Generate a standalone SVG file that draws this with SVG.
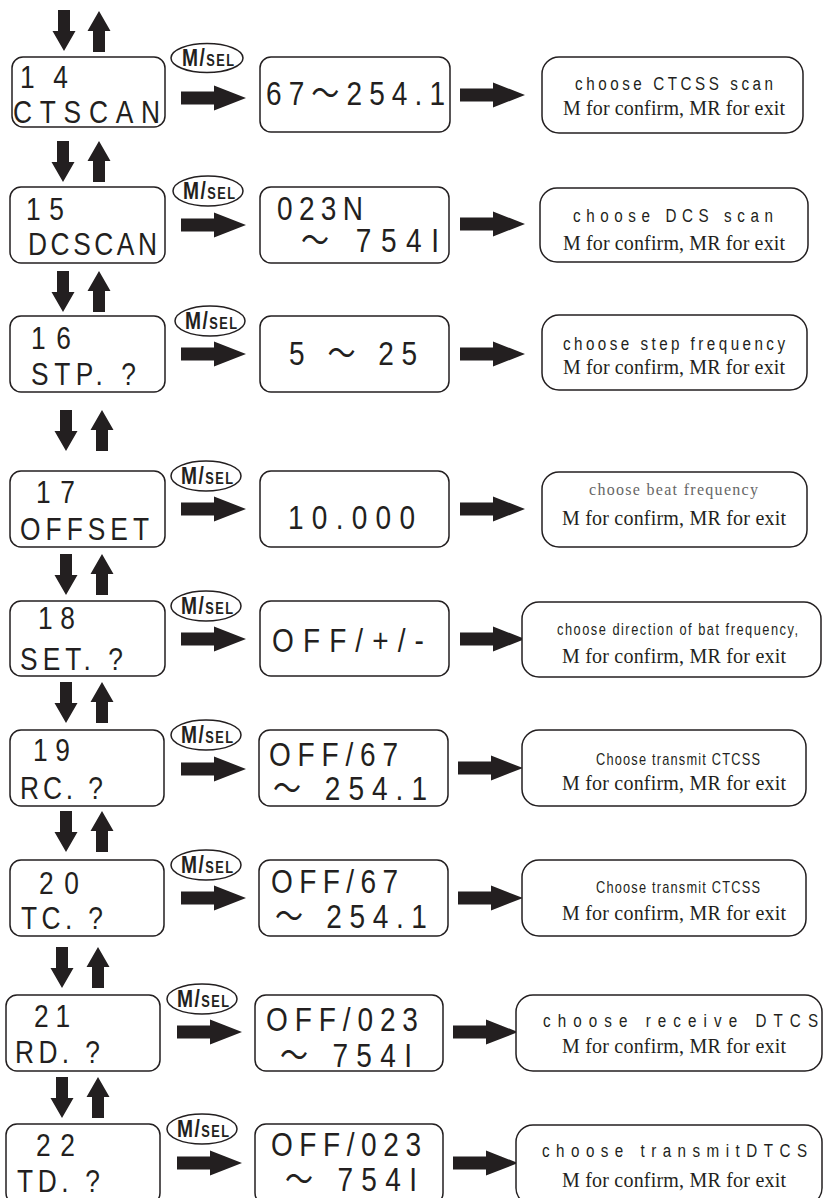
<svg xmlns="http://www.w3.org/2000/svg" xmlns:xlink="http://www.w3.org/1999/xlink" width="824" height="1198" viewBox="0 0 824 1198">
<style>
.box{fill:#fff;stroke:#231f20;stroke-width:1.5}
.lcd{font-family:"Liberation Sans","Noto Sans CJK SC",sans-serif;font-size:33px;fill:#231f20}
.lcdL{font-family:"Liberation Sans",sans-serif;font-size:31px;fill:#231f20}
.l1{font-family:"Liberation Sans",sans-serif;font-size:19px;fill:#231f20}
.l1s{font-family:"Liberation Sans",sans-serif;font-size:16px;fill:#231f20}
.l1g{font-family:"Liberation Serif",serif;font-size:16px;fill:#666}
.l2{font-family:"Liberation Serif",serif;font-size:20px;fill:#231f20}
.msel{font-family:"Liberation Sans",sans-serif;font-weight:bold;fill:#231f20}
.ell{fill:#fff;stroke:#231f20;stroke-width:1.5}
.arr{fill:#231f20}
</style>
<defs>
<path id="rt" class="arr" d="M0,-6.5 H33 V-12.5 L65,0 L33,12.5 V6.5 H0 Z"/>
<path id="dn" class="arr" d="M-6,0 H6 V21 H11.5 L0,41 L-11.5,21 H-6 Z"/>
<path id="up" class="arr" d="M-6,41 H6 V20 H11.5 L0,0 L-11.5,20 H-6 Z"/>
</defs>

<g id="connectors">
<use href="#dn" x="64" y="10"/><use href="#up" x="99" y="11"/>
<use href="#dn" x="63" y="141"/><use href="#up" x="99" y="141"/>
<use href="#dn" x="63" y="271"/><use href="#up" x="99" y="271"/>
<use href="#dn" x="66" y="410"/><use href="#up" x="102" y="410"/>
<use href="#dn" x="66" y="554"/><use href="#up" x="102" y="554"/>
<use href="#dn" x="66" y="682"/><use href="#up" x="102" y="682"/>
<use href="#dn" x="66" y="811"/><use href="#up" x="102" y="811"/>
<use href="#dn" x="62" y="947"/><use href="#up" x="98" y="947"/>
<use href="#dn" x="62" y="1077"/><use href="#up" x="98" y="1077"/>

<use href="#rt" x="181" y="98"/><use href="#rt" x="460" y="95"/>
<use href="#rt" x="181" y="225"/><use href="#rt" x="460" y="224"/>
<use href="#rt" x="181" y="354"/><use href="#rt" x="460" y="354"/>
<use href="#rt" x="181" y="509"/><use href="#rt" x="460" y="509"/>
<use href="#rt" x="181" y="639"/><use href="#rt" x="460" y="639"/>
<use href="#rt" x="181" y="769"/><use href="#rt" x="458" y="768"/>
<use href="#rt" x="181" y="898"/><use href="#rt" x="458" y="898"/>
<use href="#rt" x="177" y="1032"/><use href="#rt" x="453" y="1032"/>
<use href="#rt" x="177" y="1163"/><use href="#rt" x="453" y="1163"/>

<g id="msel-buttons">
<ellipse class="ell" cx="207" cy="58" rx="36" ry="14.5"/><text class="msel" transform="translate(182 0) scale(0.8 1)" x="0" y="66" textLength="65"><tspan font-size="24">M/</tspan><tspan font-size="16">SEL</tspan></text>
<ellipse class="ell" cx="208" cy="191" rx="35" ry="15"/><text class="msel" transform="translate(183 0) scale(0.8 1)" x="0" y="199" textLength="65"><tspan font-size="24">M/</tspan><tspan font-size="16">SEL</tspan></text>
<ellipse class="ell" cx="210" cy="321" rx="35" ry="15"/><text class="msel" transform="translate(185 0) scale(0.8 1)" x="0" y="329" textLength="65"><tspan font-size="24">M/</tspan><tspan font-size="16">SEL</tspan></text>
<ellipse class="ell" cx="206" cy="476" rx="35" ry="15"/><text class="msel" transform="translate(181 0) scale(0.8 1)" x="0" y="484" textLength="65"><tspan font-size="24">M/</tspan><tspan font-size="16">SEL</tspan></text>
<ellipse class="ell" cx="206" cy="606" rx="35" ry="15"/><text class="msel" transform="translate(181 0) scale(0.8 1)" x="0" y="614" textLength="65"><tspan font-size="24">M/</tspan><tspan font-size="16">SEL</tspan></text>
<ellipse class="ell" cx="206" cy="735" rx="35" ry="15"/><text class="msel" transform="translate(181 0) scale(0.8 1)" x="0" y="743" textLength="65"><tspan font-size="24">M/</tspan><tspan font-size="16">SEL</tspan></text>
<ellipse class="ell" cx="206" cy="865" rx="35" ry="15"/><text class="msel" transform="translate(181 0) scale(0.8 1)" x="0" y="873" textLength="65"><tspan font-size="24">M/</tspan><tspan font-size="16">SEL</tspan></text>
<ellipse class="ell" cx="202" cy="999" rx="35" ry="15"/><text class="msel" transform="translate(177 0) scale(0.8 1)" x="0" y="1007" textLength="65"><tspan font-size="24">M/</tspan><tspan font-size="16">SEL</tspan></text>
<ellipse class="ell" cx="202" cy="1129" rx="35" ry="15"/><text class="msel" transform="translate(177 0) scale(0.8 1)" x="0" y="1137" textLength="65"><tspan font-size="24">M/</tspan><tspan font-size="16">SEL</tspan></text>
</g>
</g>

<g id="row14">
<g id="n14"><rect class="box" x="12" y="57" width="153" height="70" rx="11"/>
<text class="lcdL" transform="translate(20 0) scale(0.85 1)" x="0" y="88" textLength="56.5">14</text><text class="lcdL" transform="translate(13 0) scale(0.85 1)" x="0" y="123" textLength="172.9">CTSCAN</text></g>
<g id="v14"><rect class="box" x="260" y="57" width="190" height="75" rx="11"/>
<text class="lcd" transform="translate(266 0) scale(0.85 1)" x="0" y="105" textLength="210.6">67～254.1</text></g>
<g id="d14"><rect class="box" x="542" y="57" width="261" height="76" rx="17"/>
<text class="l1" transform="translate(575 0) scale(0.8 1)" x="0" y="90" textLength="247.5">choose CTCSS scan</text><text class="l2" x="563" y="115" textLength="222">M  for confirm, MR for exit</text></g>
</g>

<g id="row15">
<g id="n15"><rect class="box" x="10" y="187" width="155" height="76" rx="11"/>
<text class="lcdL" transform="translate(26 0) scale(0.85 1)" x="0" y="220" textLength="44.7">15</text><text class="lcdL" transform="translate(28 0) scale(0.85 1)" x="0" y="255" textLength="151.8">DCSCAN</text></g>
<g id="v15"><rect class="box" x="260" y="187" width="189" height="76" rx="11"/>
<text class="lcd" transform="translate(277 0) scale(0.85 1)" x="0" y="220" textLength="101.2">023N</text><text class="lcd" transform="translate(301 0) scale(0.85 1)" x="0" y="252" textLength="162.4">～ 754I</text></g>
<g id="d15"><rect class="box" x="540" y="188" width="268" height="74" rx="17"/>
<text class="l1" transform="translate(573 0) scale(0.8 1)" x="0" y="222" textLength="250">choose DCS scan</text><text class="l2" x="563" y="250" textLength="222">M  for confirm, MR for exit</text></g>
</g>

<g id="row16">
<g id="n16"><rect class="box" x="10" y="316" width="155" height="76" rx="11"/>
<text class="lcdL" transform="translate(31 0) scale(0.85 1)" x="0" y="349" textLength="47.1">16</text><text class="lcdL" transform="translate(31 0) scale(0.85 1)" x="0" y="385" textLength="123.5">STP. ?</text></g>
<g id="v16"><rect class="box" x="260" y="316" width="189" height="76" rx="11"/>
<text class="lcd" transform="translate(289 0) scale(0.85 1)" x="0" y="365" textLength="150.6">5 ～ 25</text></g>
<g id="d16"><rect class="box" x="542" y="315" width="265" height="75" rx="17"/>
<text class="l1" transform="translate(563 0) scale(0.8 1)" x="0" y="350" textLength="277.5">choose step frequency</text><text class="l2" x="563" y="374" textLength="222">M  for confirm, MR for exit</text></g>
</g>

<g id="row17">
<g id="n17"><rect class="box" x="10" y="471" width="155" height="76" rx="11"/>
<text class="lcdL" transform="translate(36 0) scale(0.85 1)" x="0" y="503" textLength="45.9">17</text><text class="lcdL" transform="translate(20 0) scale(0.85 1)" x="0" y="540" textLength="151.8">OFFSET</text></g>
<g id="v17"><rect class="box" x="260" y="471" width="189" height="76" rx="11"/>
<text class="lcd" transform="translate(288 0) scale(0.85 1)" x="0" y="529" textLength="149.4">10.000</text></g>
<g id="d17"><rect class="box" x="542" y="472" width="265" height="75" rx="17"/>
<text class="l1g" x="589" y="495" textLength="169">choose beat frequency</text><text class="l2" x="562" y="525" textLength="224" font-size="21">M  for confirm, MR for exit</text></g>
</g>

<g id="row18">
<g id="n18"><rect class="box" x="10" y="601" width="155" height="75" rx="11"/>
<text class="lcdL" transform="translate(38 0) scale(0.85 1)" x="0" y="629" textLength="43.5">18</text><text class="lcdL" transform="translate(20 0) scale(0.85 1)" x="0" y="670" textLength="121.2">SET. ?</text></g>
<g id="v18"><rect class="box" x="260" y="601" width="189" height="75" rx="11"/>
<text class="lcd" transform="translate(272 0) scale(0.85 1)" x="0" y="652" textLength="178.8">OFF/+/-</text></g>
<g id="d18"><rect class="box" x="522" y="602" width="299" height="75" rx="17"/>
<text class="l1s" transform="translate(557 0) scale(0.8 1)" x="0" y="635" textLength="301.3">choose direction of bat frequency,</text><text class="l2" x="562" y="663" textLength="224">M  for confirm, MR for exit</text></g>
</g>

<g id="row19">
<g id="n19"><rect class="box" x="10" y="730" width="154" height="76" rx="11"/>
<text class="lcdL" transform="translate(33 0) scale(0.85 1)" x="0" y="761" textLength="43.5">19</text><text class="lcdL" transform="translate(20 0) scale(0.85 1)" x="0" y="799" textLength="97.6">RC. ?</text></g>
<g id="v19"><rect class="box" x="259" y="730" width="189" height="76" rx="11"/>
<text class="lcd" transform="translate(269 0) scale(0.85 1)" x="0" y="766" textLength="151.8">OFF/67</text><text class="lcd" transform="translate(273 0) scale(0.85 1)" x="0" y="800" textLength="181.2">～ 254.1</text></g>
<g id="d19"><rect class="box" x="522" y="730" width="284" height="76" rx="17"/>
<text class="l1s" transform="translate(596 0) scale(0.8 1)" x="0" y="765" textLength="205">Choose transmit CTCSS</text><text class="l2" x="562" y="790" textLength="224">M  for confirm, MR for exit</text></g>
</g>

<g id="row20">
<g id="n20"><rect class="box" x="10" y="860" width="154" height="76" rx="11"/>
<text class="lcdL" transform="translate(39 0) scale(0.85 1)" x="0" y="894" textLength="47.1">20</text><text class="lcdL" transform="translate(21 0) scale(0.85 1)" x="0" y="929" textLength="96.5">TC. ?</text></g>
<g id="v20"><rect class="box" x="259" y="860" width="189" height="76" rx="11"/>
<text class="lcd" transform="translate(271 0) scale(0.85 1)" x="0" y="893" textLength="149.4">OFF/67</text><text class="lcd" transform="translate(275 0) scale(0.85 1)" x="0" y="928" textLength="178.8">～ 254.1</text></g>
<g id="d20"><rect class="box" x="522" y="860" width="284" height="76" rx="17"/>
<text class="l1s" transform="translate(596 0) scale(0.8 1)" x="0" y="893" textLength="205">Choose transmit CTCSS</text><text class="l2" x="562" y="920" textLength="224">M  for confirm, MR for exit</text></g>
</g>

<g id="row21">
<g id="n21"><rect class="box" x="6" y="995" width="154" height="76" rx="11"/>
<text class="lcdL" transform="translate(34 0) scale(0.85 1)" x="0" y="1027" textLength="42.4">21</text><text class="lcdL" transform="translate(15 0) scale(0.85 1)" x="0" y="1063" textLength="100">RD. ?</text></g>
<g id="v21"><rect class="box" x="255" y="995" width="188" height="76" rx="11"/>
<text class="lcd" transform="translate(266 0) scale(0.85 1)" x="0" y="1031" textLength="178.8">OFF/023</text><text class="lcd" transform="translate(280 0) scale(0.85 1)" x="0" y="1067" textLength="155.3">～ 754I</text></g>
<g id="d21"><rect class="box" x="516" y="995" width="306" height="76" rx="17"/>
<text class="l1" transform="translate(543 0) scale(0.8 1)" x="0" y="1027" textLength="343.8">choose receive DTCS</text><text class="l2" x="562" y="1053" textLength="224">M  for confirm, MR for exit</text></g>
</g>

<g id="row22">
<g id="n22"><rect class="box" x="6" y="1124" width="154" height="80" rx="11"/>
<text class="lcdL" transform="translate(36 0) scale(0.85 1)" x="0" y="1156" textLength="45.9">22</text><text class="lcdL" transform="translate(17 0) scale(0.85 1)" x="0" y="1192" textLength="97.6">TD. ?</text></g>
<g id="v22"><rect class="box" x="255" y="1124" width="188" height="80" rx="11"/>
<text class="lcd" transform="translate(271 0) scale(0.85 1)" x="0" y="1156" textLength="176.5">OFF/023</text><text class="lcd" transform="translate(285 0) scale(0.85 1)" x="0" y="1191" textLength="155.3">～ 754I</text></g>
<g id="d22"><rect class="box" x="516" y="1125" width="306" height="80" rx="17"/>
<text class="l1" transform="translate(542 0) scale(0.8 1)" x="0" y="1157" textLength="331.3">choose transmitDTCS</text><text class="l2" x="562" y="1187" textLength="224">M  for confirm, MR for exit</text></g>
</g>
</svg>
